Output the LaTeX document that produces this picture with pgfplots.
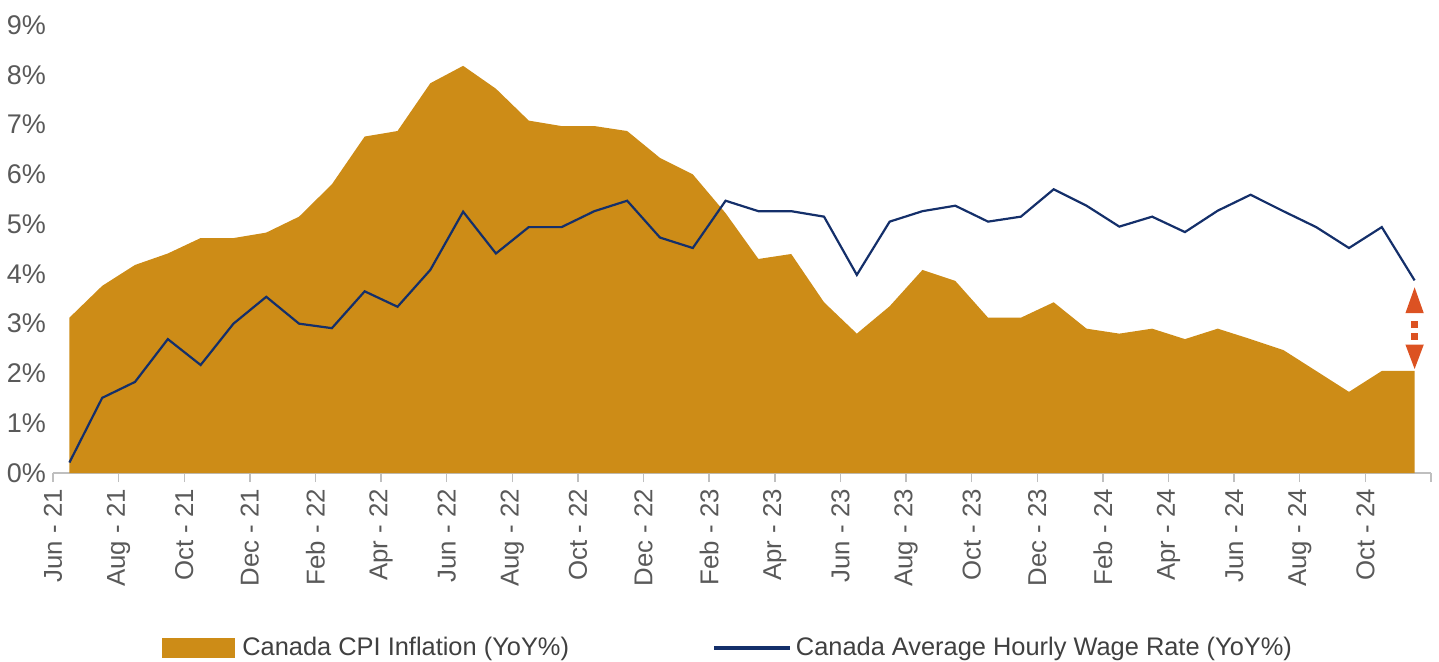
\documentclass[border=0pt]{standalone}
\usepackage{pgfplots}
\pgfplotsset{compat=1.18}
\usepackage{fontspec}
\setmainfont{Liberation Sans}
\definecolor{cpi}{HTML}{CD8C17}
\definecolor{wage}{HTML}{142F6A}
\definecolor{gaparrow}{HTML}{DC5222}
\definecolor{ticktext}{HTML}{595959}
\definecolor{legtext}{HTML}{404040}
\definecolor{axisgray}{HTML}{BFBFBF}

\begin{document}
\begin{tikzpicture}
\begin{axis}[
  scale only axis, width=689pt, height=224pt,
  xmin=-0.5, xmax=41.5, ymin=0, ymax=9,
  axis x line*=bottom, axis y line*=left,
  x axis line style={draw=axisgray, line width=0.7pt, -},
  y axis line style={draw=none},
  xtick={-0.5,1.5,...,41.5},
  xticklabels={Jun - 21,Aug - 21,Oct - 21,Dec - 21,Feb - 22,Apr - 22,Jun - 22,Aug - 22,Oct - 22,Dec - 22,Feb - 23,Apr - 23,Jun - 23,Aug - 23,Oct - 23,Dec - 23,Feb - 24,Apr - 24,Jun - 24,Aug - 24,Oct - 24,{}},
  x tick label style={rotate=90, anchor=east, font=\fontsize{12.9}{15}\selectfont, text=ticktext},
  ytick={0,1,...,9},
  yticklabels={0\%,1\%,2\%,3\%,4\%,5\%,6\%,7\%,8\%,9\%},
  y tick label style={font=\fontsize{13.5}{15}\selectfont, text=ticktext, xshift=4.5pt},
  tick align=outside,
  major tick length=4.5pt,
  x tick style={draw=axisgray, line width=0.7pt},
  y tick style={draw=none},
  clip=false,
  legend columns=2,
  legend style={draw=none, fill=none, at={(axis description cs:0,0)}, anchor=west,
    xshift=54.5pt, yshift=-87.5pt, font=\fontsize{12.7}{15}\selectfont, text=legtext,
    inner sep=0pt, column sep=0pt, nodes={inner sep=2pt}},
  legend cell align=left,
]
% Canada CPI inflation, YoY %
\addplot[fill=cpi, draw=none,
  legend image code/.code={\fill[cpi] (0pt,-5pt) rectangle (36.5pt,5pt); \path (38pt,0pt);}]
coordinates {
(0,3.12) (1,3.76) (2,4.18) (3,4.41) (4,4.72) (5,4.72) (6,4.83) (7,5.15)
(8,5.80) (9,6.76) (10,6.87) (11,7.83) (12,8.18) (13,7.72) (14,7.08) (15,6.97)
(16,6.97) (17,6.87) (18,6.33) (19,6.00) (20,5.22) (21,4.30) (22,4.40) (23,3.43)
(24,2.80) (25,3.35) (26,4.08) (27,3.86) (28,3.12) (29,3.12) (30,3.43) (31,2.90)
(32,2.80) (33,2.90) (34,2.69) (35,2.90) (36,2.69) (37,2.47) (38,2.05) (39,1.63)
(40,2.05) (41,2.05)
} \closedcycle;
\addlegendentry{Canada CPI Inflation (YoY\%)}
% Canada average hourly wage rate, YoY %
\addplot[wage, line width=1.1pt,
  legend image code/.code={\path (-70pt,0pt); \draw[wage, line width=1.8pt] (0pt,0pt) -- (38pt,0pt);}]
coordinates {
(0,0.21) (1,1.51) (2,1.83) (3,2.69) (4,2.17) (5,3.00) (6,3.54) (7,3.00)
(8,2.91) (9,3.65) (10,3.34) (11,4.08) (12,5.25) (13,4.41) (14,4.94) (15,4.94)
(16,5.26) (17,5.47) (18,4.73) (19,4.52) (20,5.47) (21,5.26) (22,5.26) (23,5.15)
(24,3.98) (25,5.05) (26,5.26) (27,5.37) (28,5.05) (29,5.15) (30,5.70) (31,5.37)
(32,4.95) (33,5.15) (34,4.84) (35,5.27) (36,5.59) (37,5.26) (38,4.94) (39,4.52)
(40,4.94) (41,3.87)
};
\addlegendentry{Canada Average Hourly Wage Rate (YoY\%)}
% gap arrow
\fill[gaparrow] (axis cs:41,3.73) -- ([xshift=4.6pt]axis cs:41,3.21) -- ([xshift=-4.6pt]axis cs:41,3.21) -- cycle;
\fill[gaparrow] ([xshift=-1.8pt]axis cs:41,3.05) rectangle ([xshift=1.8pt]axis cs:41,2.92);
\fill[gaparrow] ([xshift=-1.8pt]axis cs:41,2.81) rectangle ([xshift=1.8pt]axis cs:41,2.68);
\fill[gaparrow] (axis cs:41,2.09) -- ([xshift=4.6pt]axis cs:41,2.58) -- ([xshift=-4.6pt]axis cs:41,2.58) -- cycle;
\end{axis}
\pgfresetboundingbox
\path (-26.5pt,-94pt) rectangle (693pt,236.5pt);
\end{tikzpicture}
\end{document}
